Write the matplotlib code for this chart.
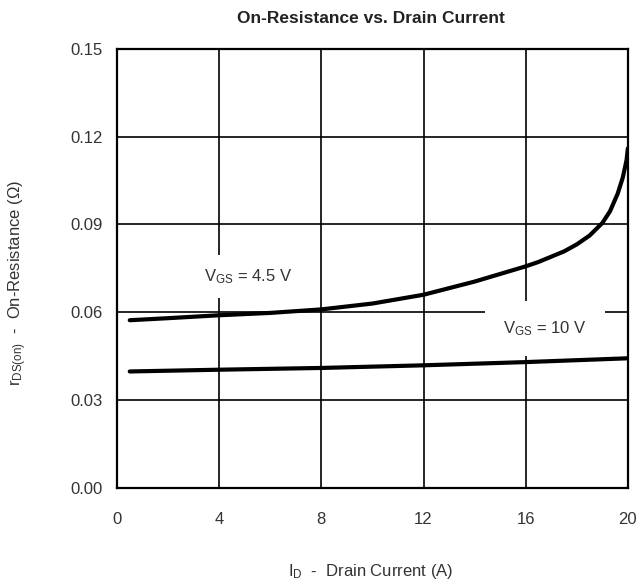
import matplotlib
matplotlib.use("Agg")
import matplotlib.pyplot as plt

plt.rcParams['font.family'] = ['Liberation Sans', 'DejaVu Sans']
plt.rcParams['mathtext.default'] = 'regular'

# VGS = 4.5 V curve
id_45 = [0.5, 2, 4, 6, 8, 10, 12, 14, 16, 16.5, 17, 17.5, 18, 18.5, 19,
         19.3, 19.6, 19.8, 19.95, 20]
r_45 = [0.0573, 0.058, 0.059, 0.0598, 0.061, 0.063, 0.066, 0.0705, 0.0757,
        0.0772, 0.079, 0.0808, 0.0832, 0.0862, 0.0905, 0.0945, 0.1005,
        0.106, 0.112, 0.116]

# VGS = 10 V curve
id_10 = [0.5, 4, 8, 12, 16, 20]
r_10 = [0.0398, 0.0404, 0.041, 0.0419, 0.043, 0.0443]

x_ticks = [0, 4, 8, 12, 16, 20]
y_ticks = [0.00, 0.03, 0.06, 0.09, 0.12, 0.15]
y_labels = ['0.00', '0.03', '0.06', '0.09', '0.12', '0.15']

txt = '#333333'

fig = plt.figure(figsize=(6.41, 5.84), dpi=100)
ax = fig.add_axes([0.1825, 0.1644, 0.797, 0.752])

ax.plot(id_45, r_45, color='black', lw=3, zorder=3, solid_capstyle='round',
        solid_joinstyle='round')
ax.plot(id_10, r_10, color='black', lw=3, zorder=3, solid_capstyle='round')

ax.set_xlim(0, 20)
ax.set_ylim(0, 0.15)
ax.set_xticks(x_ticks)
ax.set_yticks(y_ticks)
ax.set_yticklabels(y_labels)
ax.tick_params(length=0, labelsize=12, colors=txt)
ax.tick_params(axis='x', pad=17)
ax.tick_params(axis='y', pad=10)
ax.grid(True, color='black', lw=1.2, zorder=1)
for s in ax.spines.values():
    s.set_linewidth(1.6)

ax.text(5.13, 0.0722, 'V$_{GS}$ = 4.5 V', fontsize=12, color=txt,
        ha='center', va='center',
        bbox=dict(facecolor='white', edgecolor='none', pad=9), zorder=2)
ax.text(16.75, 0.0544, 'V$_{GS}$ = 10 V', fontsize=12, color=txt,
        ha='center', va='center',
        bbox=dict(facecolor='white', edgecolor='none', pad=13), zorder=2)

fig.text(0.578, 0.969, 'On-Resistance vs. Drain Current', fontsize=12.5,
         fontweight='bold', ha='center', va='center', color='#222222')
fig.text(0.578, 0.021, 'I$_D$  -  Drain Current (A)', fontsize=12,
         ha='center', va='center', color=txt)
fig.text(0.028, 0.515, 'r$_{DS(on)}$  -  On-Resistance ($\\Omega$)', fontsize=12,
         ha='center', va='center', rotation=90, color=txt)

fig.savefig('out.png', dpi=100)
